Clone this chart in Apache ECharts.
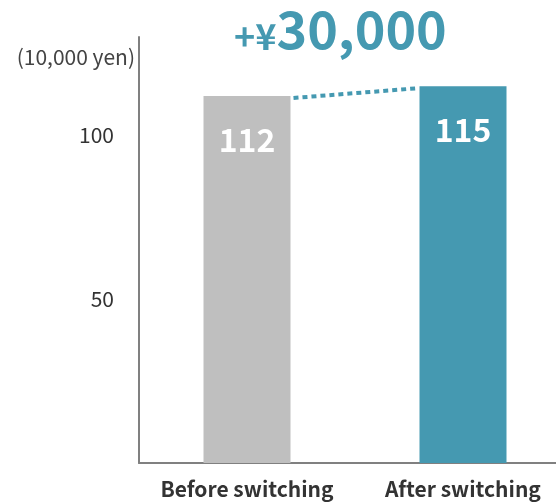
<!DOCTYPE html>
<html>
<head>
<meta charset="utf-8">
<script src="https://cdn.jsdelivr.net/npm/echarts@6/dist/echarts.min.js"></script>
<style>
  html, body { margin: 0; padding: 0; background: #fff; }
  #chart { width: 556px; height: 502px; }
</style>
</head>
<body>
<div id="chart"></div>
<script>
// Annual amount, in units of 10,000 yen
const categories = ['Before switching', 'After switching'];
const amounts = [112, 115];
const barColors = ['#bfbfbf', '#4599b1'];
const tickLabels = [50, 100];
const unitLabel = '(10,000 yen)';

const FONT = '"Noto Sans CJK JP", "Noto Sans", sans-serif';
const TEAL = '#4599b1';
const BAR_W = 87;

const chart = echarts.init(document.getElementById('chart'), null, { renderer: 'canvas' });

chart.setOption({
  animation: false,
  grid: {
    left: 139, top: 37, width: 432, bottom: 39,
    containLabel: false,
    outerBoundsMode: 'none'
  },
  xAxis: {
    type: 'category',
    data: categories,
    axisLine: { lineStyle: { color: '#808080', width: 2 } },
    axisTick: { show: false },
    axisLabel: {
      interval: 0,
      hideOverlap: false,
      margin: 16,
      fontFamily: FONT,
      fontWeight: 'bold',
      fontSize: 21,
      color: '#333'
    }
  },
  yAxis: {
    type: 'value',
    min: 0,
    max: 130,
    interval: 50,
    name: unitLabel,
    nameLocation: 'end',
    nameGap: -20,
    nameTextStyle: {
      fontFamily: FONT,
      fontSize: 21,
      color: '#444',
      align: 'right',
      verticalAlign: 'middle',
      padding: [0, 4, 0, 0]
    },
    splitLine: { show: false },
    axisTick: { show: false },
    axisLine: { show: true, lineStyle: { color: '#808080', width: 2 } },
    axisLabel: {
      margin: 25,
      fontFamily: FONT,
      fontSize: 21,
      color: '#333',
      formatter: v => (tickLabels.indexOf(v) >= 0 ? String(v) : '')
    }
  },
  series: [{
    type: 'bar',
    barWidth: BAR_W,
    data: amounts.map((v, i) => ({ value: v, itemStyle: { color: barColors[i] } })),
    label: {
      show: true,
      position: 'insideTop',
      distance: 28,
      fontFamily: FONT,
      fontWeight: 'bold',
      fontSize: 32,
      color: '#fff'
    }
  }]
});

// Dotted connector between the two bar tops, plus the difference callout
const p0 = chart.convertToPixel({ xAxisIndex: 0, yAxisIndex: 0 }, [0, amounts[0]]);
const p1 = chart.convertToPixel({ xAxisIndex: 0, yAxisIndex: 0 }, [1, amounts[1]]);
const diffYen = (amounts[1] - amounts[0]) * 10000;

chart.setOption({
  graphic: [
    {
      type: 'line',
      shape: { x1: p0[0] + BAR_W / 2 + 3, y1: p0[1] + 2, x2: p1[0] - BAR_W / 2 - 1, y2: p1[1] + 2 },
      style: { stroke: TEAL, lineWidth: 4, lineDash: [5, 4] }
    },
    {
      type: 'text',
      left: 234,
      top: 3,
      style: {
        text: '{s|+¥}{b|' + diffYen.toLocaleString('en-US') + '}',
        rich: {
          s: { fontFamily: FONT, fontWeight: 'bold', fontSize: 36, fill: TEAL, verticalAlign: 'bottom', padding: [0, 0, 1, 0] },
          b: { fontFamily: FONT, fontWeight: 'bold', fontSize: 52, fill: TEAL, verticalAlign: 'bottom' }
        }
      }
    }
  ]
});
</script>
</body>
</html>
